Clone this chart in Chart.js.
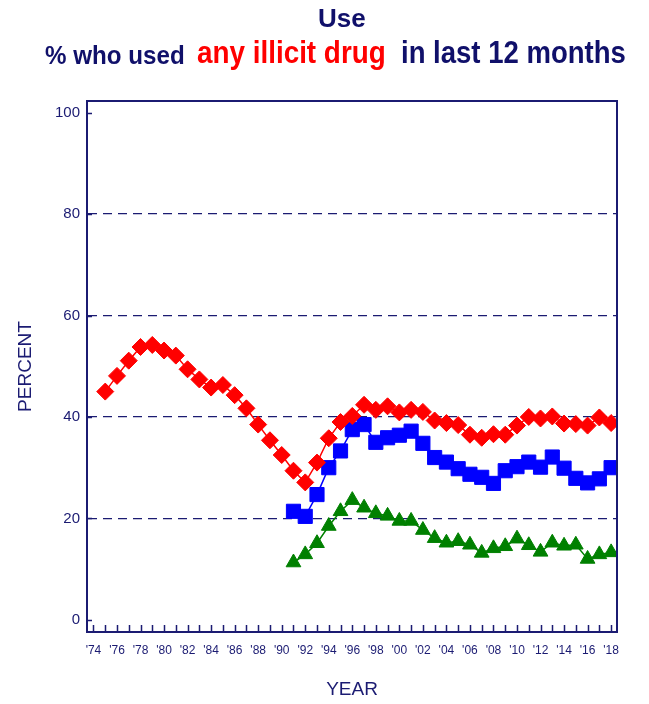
<!DOCTYPE html>
<html>
<head>
<meta charset="utf-8">
<script src="https://cdn.jsdelivr.net/npm/chart.js@4"></script>
<style>
  body { margin: 0; background: #fff; }
  #wrap { position: relative; width: 649px; height: 704px; font-family: "Liberation Sans", Arial, sans-serif; }
  #wrap canvas { position: absolute; left: 0; top: 0; }
  .ttl { position: absolute; font-weight: bold; line-height: 1; white-space: nowrap; color: #10106a; transform-origin: 0 0; }
</style>
</head>
<body>
<div id="wrap">
  <canvas id="chart" width="649" height="704"></canvas>
  <div class="ttl" style="left:318px; top:5px; font-size:26px;">Use</div>
  <div class="ttl" style="left:45px; top:42px; font-size:26px; transform:scaleX(0.93);">% who used</div>
  <div class="ttl" style="left:197px; top:36px; font-size:32px; color:#ff0000; transform:scaleX(0.87);">any illicit drug</div>
  <div class="ttl" style="left:401px; top:36px; font-size:32px; transform:scaleX(0.86);">in last 12 months</div>
</div>
<script>
var navy = '#1b1b72';

// survey years
var years = [1975, 1976, 1977, 1978, 1979, 1980, 1981, 1982, 1983, 1984, 1985,
	1986, 1987, 1988, 1989, 1990, 1991, 1992, 1993, 1994, 1995, 1996, 1997,
	1998, 1999, 2000, 2001, 2002, 2003, 2004, 2005, 2006, 2007, 2008, 2009,
	2010, 2011, 2012, 2013, 2014, 2015, 2016, 2017, 2018];

// 12th grade (red)
var grade12 = [45.0, 48.1, 51.1, 53.8, 54.2, 53.1, 52.1, 49.4, 47.4, 45.8, 46.3,
	44.3, 41.7, 38.5, 35.4, 32.5, 29.4, 27.1, 31.0, 35.8, 39.0, 40.2, 42.4,
	41.4, 42.1, 40.9, 41.4, 41.0, 39.3, 38.8, 38.4, 36.5, 35.9, 36.6, 36.5,
	38.3, 40.0, 39.7, 40.1, 38.7, 38.6, 38.3, 39.9, 38.8];

// 10th grade (blue), from 1991
var grade10 = [null, null, null, null, null, null, null, null, null, null, null,
	null, null, null, null, null, 21.4, 20.4, 24.7, 30.0, 33.3, 37.5, 38.5,
	35.0, 35.9, 36.4, 37.2, 34.8, 32.0, 31.1, 29.8, 28.7, 28.1, 26.9, 29.4,
	30.2, 31.1, 30.1, 32.1, 29.9, 27.9, 27.0, 27.8, 30.0];

// 8th grade (green), from 1991
var grade8 = [null, null, null, null, null, null, null, null, null, null, null,
	null, null, null, null, null, 11.3, 12.9, 15.1, 18.5, 21.4, 23.6, 22.1,
	21.0, 20.5, 19.5, 19.5, 17.7, 16.1, 15.2, 15.5, 14.8, 13.2, 14.1, 14.5,
	16.0, 14.7, 13.4, 15.2, 14.6, 14.8, 12.0, 12.9, 13.3];

// axis ticks
var xTickYears = [1974, 1975, 1976, 1977, 1978, 1979, 1980, 1981, 1982, 1983,
	1984, 1985, 1986, 1987, 1988, 1989, 1990, 1991, 1992, 1993, 1994, 1995,
	1996, 1997, 1998, 1999, 2000, 2001, 2002, 2003, 2004, 2005, 2006, 2007,
	2008, 2009, 2010, 2011, 2012, 2013, 2014, 2015, 2016, 2017, 2018];
var yTicks = [0, 20, 40, 60, 80, 100];

function points( values ) {
	var out = [];
	for( var i = 0; i < years.length; i++ ) {
		out.push({ x: years[i], y: values[i] });
	}
	return out;
}

// box outline plus the short inside tick marks
var frame = {
	id: 'frame',
	afterDraw: function( chart ) {
		var c = chart.ctx, a = chart.chartArea;
		var xs = chart.scales.x, ys = chart.scales.y;
		c.save();
		c.strokeStyle = navy;
		c.lineWidth = 1.5;
		c.beginPath();
		xTickYears.forEach( function( v ) {
			var px = Math.round( xs.getPixelForValue( v ) ) + 0.5;
			c.moveTo( px, a.bottom );
			c.lineTo( px, a.bottom - 7 );
		});
		yTicks.forEach( function( v ) {
			var py = Math.round( ys.getPixelForValue( v ) ) + 0.5;
			c.moveTo( a.left, py );
			c.lineTo( a.left + 5, py );
		});
		c.stroke();
		c.lineWidth = 2;
		c.strokeRect( a.left, a.top, a.right - a.left, a.bottom - a.top );
		c.restore();
	}
};

var ctx = document.getElementById('chart').getContext('2d');
var chart = new Chart(ctx, {
	type: 'line',
	data: {
		datasets: [{
			label: '12th grade',
			data: points( grade12 ),
			borderColor: '#ff0000',
			backgroundColor: '#ff0000',
			borderWidth: 1.5,
			pointStyle: 'rectRot',
			pointRadius: 8.5,
			pointBorderWidth: 1
		}, {
			label: '10th grade',
			data: points( grade10 ),
			borderColor: '#0000ff',
			backgroundColor: '#0000ff',
			borderWidth: 1.5,
			pointStyle: 'rect',
			pointRadius: 10,
			pointBorderWidth: 1
		}, {
			label: '8th grade',
			data: points( grade8 ),
			borderColor: '#008000',
			backgroundColor: '#008000',
			borderWidth: 1.5,
			pointStyle: 'triangle',
			pointRadius: 8.5,
			pointBorderWidth: 1
		}]
	},
	options: {
		responsive: false,
		animation: false,
		layout: {
			padding: { left: 0, top: 101, right: 32, bottom: 0 }
		},
		plugins: {
			legend: { display: false },
			tooltip: { enabled: false }
		},
		scales: {
			x: {
				type: 'linear',
				min: 1973.45,
				max: 2018.5,
				afterBuildTicks: function( scale ) {
					scale.ticks = xTickYears.map( function( v ) { return { value: v }; } );
				},
				afterFit: function( scale ) {
					scale.height = 72;
				},
				ticks: {
					autoSkip: false,
					maxRotation: 0,
					padding: 11,
					color: navy,
					font: { family: '"Liberation Sans", Arial, sans-serif', size: 12 },
					callback: function( v ) {
						if( v % 2 !== 0 ) return '';
						return "'" + String( v ).slice( 2 );
					}
				},
				grid: { display: false, drawTicks: false },
				border: { display: true, color: navy, width: 2 },
				title: {
					display: true,
					text: 'YEAR',
					color: navy,
					font: { family: '"Liberation Sans", Arial, sans-serif', size: 19 },
					padding: { top: 0, bottom: 3 }
				}
			},
			y: {
				min: -2.4,
				max: 102.3,
				afterBuildTicks: function( scale ) {
					scale.ticks = yTicks.map( function( v ) { return { value: v }; } );
				},
				afterFit: function( scale ) {
					scale.width = 87;
				},
				ticks: {
					padding: 7,
					color: navy,
					font: { family: '"Liberation Sans", Arial, sans-serif', size: 15 }
				},
				grid: {
					drawTicks: false,
					lineWidth: 1.2,
					color: function( c ) {
						if( !c.tick || c.tick.value === 0 || c.tick.value === 100 ) return 'rgba(0,0,0,0)';
						return navy;
					}
				},
				border: { display: true, color: navy, width: 2, dash: [9, 6] },
				title: {
					display: true,
					text: 'PERCENT',
					color: navy,
					font: { family: '"Liberation Sans", Arial, sans-serif', size: 19 },
					padding: { top: 14, bottom: 0 }
				}
			}
		}
	},
	plugins: [ frame ]
});
</script>
</body>
</html>
